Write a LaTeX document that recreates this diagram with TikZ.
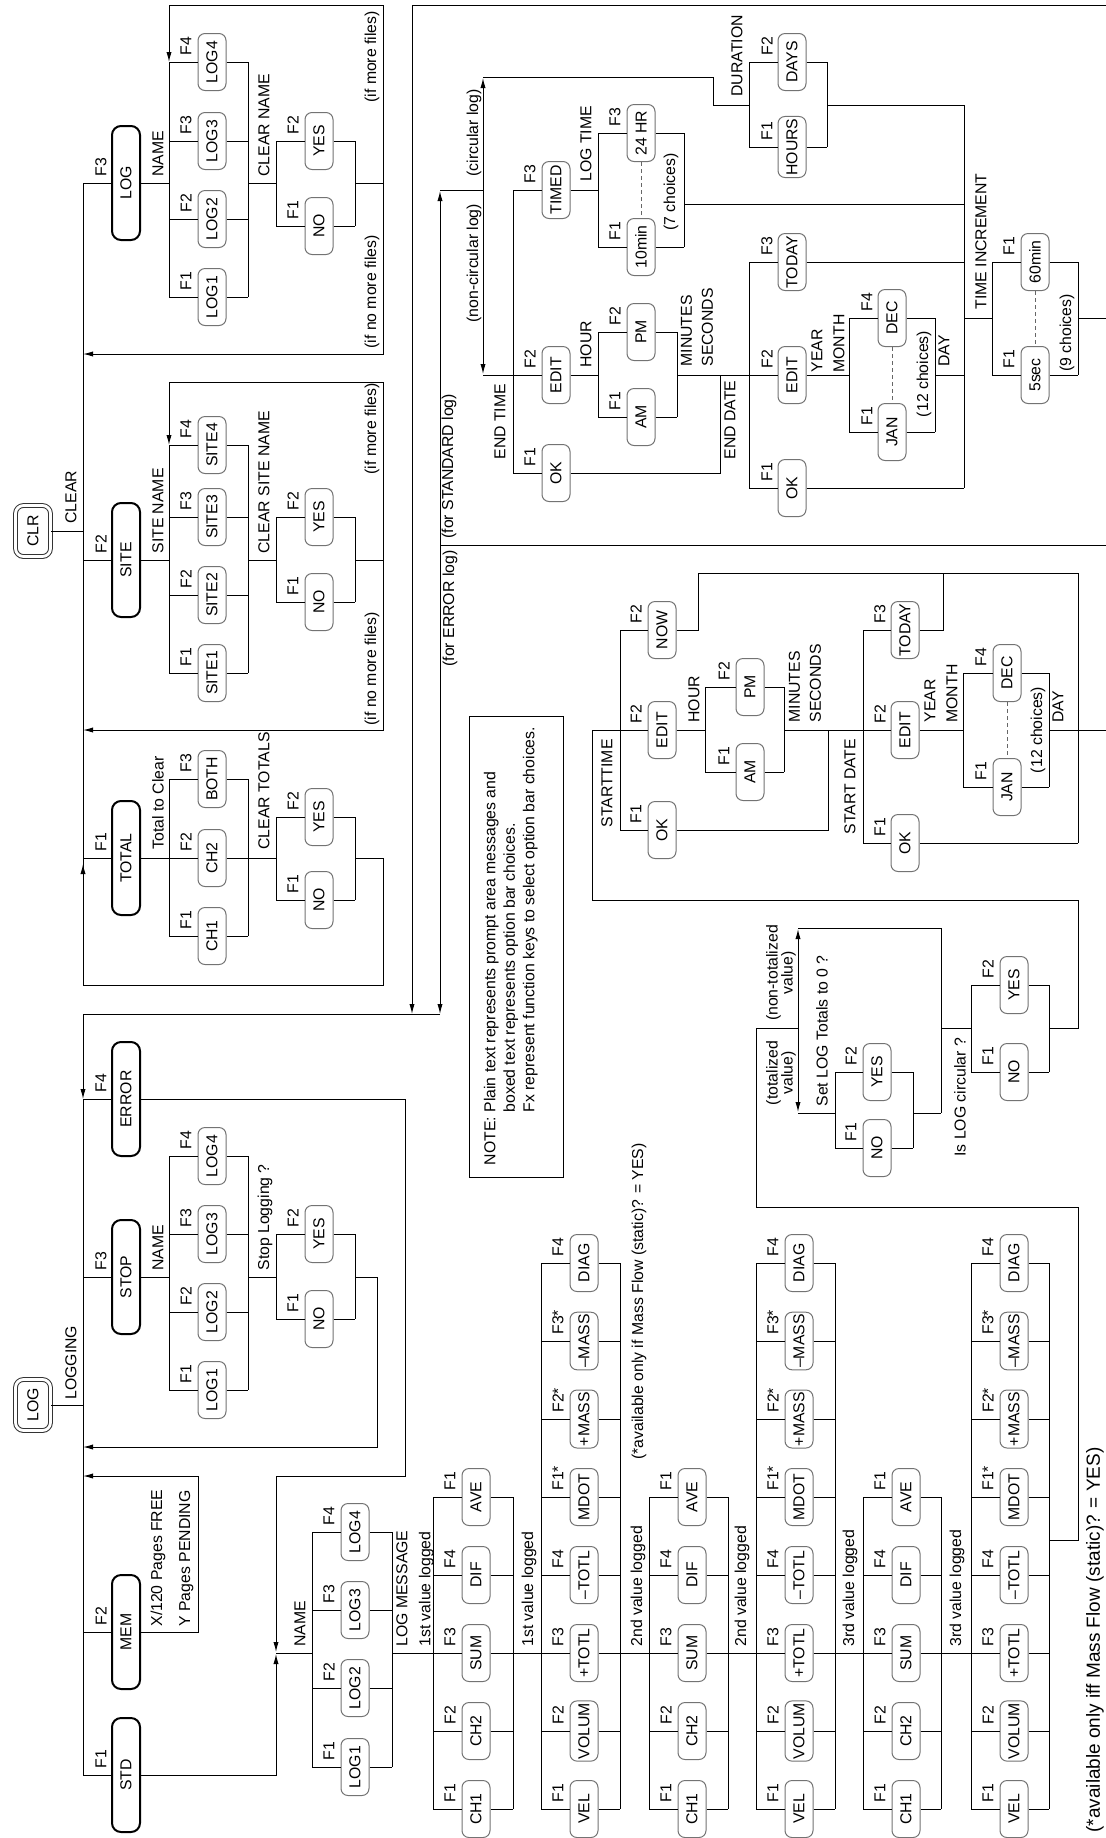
\documentclass[tikz,border=0pt]{standalone}
\usepackage{fontspec}
\setmainfont{Liberation Sans}
\usetikzlibrary{arrows.meta}

\begin{document}
\begin{tikzpicture}[
    x=0.5pt, y=-0.5pt, line width=0.5pt,
    every node/.style={rotate=90, font=\fontsize{7.9}{9.5}\selectfont},
    opt/.style={draw=black!55, rounded corners=3.5pt, fill=white,
      minimum width=28.5pt, minimum height=14pt, inner sep=1pt},
    menu/.style={draw=black, line width=1pt, rounded corners=4.5pt, fill=white,
      minimum width=57pt, minimum height=14pt, inner sep=1pt},
    hkey/.style={draw=black!80, double=white, double distance=1.4pt,
      rounded corners=4pt, fill=white, minimum width=25.5pt,
      minimum height=17.5pt, inner sep=1pt},
    fk/.style={anchor=west, inner sep=1pt},
    lab/.style={anchor=west, inner sep=1pt},
    two/.style={anchor=west, inner sep=1pt, align=left},
    arr/.style={-{Latex[length=5pt, width=2.6pt]}},
    choices/.style={draw=black!60, dash pattern=on 2pt off 1.5pt}
  ]
  \useasboundingbox (0,0) rectangle (1106,1838);

  % ===== CLR key =====
  \node[hkey] (clr) at (33,531) {CLR};
  \node[lab] (tclear) at (71,526) {CLEAR};
  \draw (clr) -- (83,531);
  \draw (83,183) -- (83,985);

  % CLEAR > LOG
  \node[menu] (clog) at (126,183) {LOG};
  \node[fk] (clogf) at (101,179) {F3};
  \draw (83,183) -- (clog) -- (169,183);
  \node[lab] (tcname) at (158,179) {NAME};
  \node[opt] (clog4) at (212,62) {LOG4};  \node[fk] (clog4f) at (186,58) {F4};
  \node[opt] (clog3) at (212,141) {LOG3}; \node[fk] (clog3f) at (186,137) {F3};
  \node[opt] (clog2) at (212,219) {LOG2}; \node[fk] (clog2f) at (186,215) {F2};
  \node[opt] (clog1) at (212,297) {LOG1}; \node[fk] (clog1f) at (186,293) {F1};
  \draw (169,62) -- (169,297);
  \draw (248,62) -- (248,297);
  \draw (169,62) -- (clog4) -- (248,62);
  \draw (169,141) -- (clog3) -- (248,141);
  \draw (169,219) -- (clog2) -- (248,219);
  \draw (169,297) -- (clog1) -- (248,297);
  \draw (248,183) -- (276,183);
  \node[lab] (tclname) at (264,179) {CLEAR NAME};
  \node[opt] (clyes) at (319,141) {YES}; \node[fk] (clyesf) at (293,137) {F2};
  \node[opt] (clno) at (319,226) {NO};   \node[fk] (clnof) at (293,222) {F1};
  \draw (276,141) -- (276,226);
  \draw (355,141) -- (355,226);
  \draw (276,141) -- (clyes) -- (355,141);
  \draw (276,226) -- (clno) -- (355,226);
  \draw[arr] (355,183) -- (383,183) -- (383,5) -- (169,5) -- (169,62);
  \draw[arr] (383,183) -- (383,354) -- (83,354);
  \node[lab] (tlmore) at (372,105) {(if more files)};
  \node[lab] (tlnomore) at (372,351) {(if no more files)};

  % CLEAR > SITE
  \node[menu] (csite) at (126,560) {SITE};
  \node[fk] (csitef) at (101,556) {F2};
  \draw (83,560) -- (csite) -- (169,560);
  \node[lab] (tsname) at (158,556) {SITE NAME};
  \node[opt] (csite4) at (212,445) {SITE4}; \node[fk] (csite4f) at (186,441) {F4};
  \node[opt] (csite3) at (212,517) {SITE3}; \node[fk] (csite3f) at (186,513) {F3};
  \node[opt] (csite2) at (212,595) {SITE2}; \node[fk] (csite2f) at (186,591) {F2};
  \node[opt] (csite1) at (212,673) {SITE1}; \node[fk] (csite1f) at (186,669) {F1};
  \draw (169,445) -- (169,673);
  \draw (248,445) -- (248,673);
  \draw (169,445) -- (csite4) -- (248,445);
  \draw (169,517) -- (csite3) -- (248,517);
  \draw (169,595) -- (csite2) -- (248,595);
  \draw (169,673) -- (csite1) -- (248,673);
  \draw (248,560) -- (276,560);
  \node[lab] (tcsname) at (264,556) {CLEAR SITE NAME};
  \node[opt] (csyes) at (319,517) {YES}; \node[fk] (csyesf) at (293,513) {F2};
  \node[opt] (csno) at (319,602) {NO};   \node[fk] (csnof) at (293,598) {F1};
  \draw (276,517) -- (276,602);
  \draw (355,517) -- (355,602);
  \draw (276,517) -- (csyes) -- (355,517);
  \draw (276,602) -- (csno) -- (355,602);
  \draw[arr] (355,560) -- (383,560) -- (383,382) -- (169,382) -- (169,445);
  \draw[arr] (383,560) -- (383,730) -- (83,730);
  \node[lab] (tsmore) at (372,477) {(if more files)};
  \node[lab] (tsnomore) at (372,728) {(if no more files)};

  % CLEAR > TOTAL
  \node[menu] (ctotal) at (126,858) {TOTAL};
  \node[fk] (ctotalf) at (101,854) {F1};
  \draw (83,858) -- (ctotal) -- (169,858);
  \node[lab] (ttclear) at (158,852) {Total to Clear};
  \node[opt] (cboth) at (212,779) {BOTH}; \node[fk] (cbothf) at (186,775) {F3};
  \node[opt] (cch2) at (212,858) {CH2};   \node[fk] (cch2f) at (186,854) {F2};
  \node[opt] (cch1) at (212,936) {CH1};   \node[fk] (cch1f) at (186,932) {F1};
  \draw (169,779) -- (169,936);
  \draw (248,779) -- (248,936);
  \draw (169,779) -- (cboth) -- (248,779);
  \draw (169,858) -- (cch2) -- (248,858);
  \draw (169,936) -- (cch1) -- (248,936);
  \draw (248,858) -- (276,858);
  \node[lab] (tctot) at (264,852) {CLEAR TOTALS};
  \node[opt] (ctyes) at (319,817) {YES}; \node[fk] (ctyesf) at (293,813) {F2};
  \node[opt] (ctno) at (319,900) {NO};   \node[fk] (ctnof) at (293,896) {F1};
  \draw (276,817) -- (276,900);
  \draw (355,817) -- (355,900);
  \draw (276,817) -- (ctyes) -- (355,817);
  \draw (276,900) -- (ctno) -- (355,900);
  \draw[arr] (355,858) -- (383,858) -- (383,985) -- (83,985) -- (83,864);

  % ===== LOG key =====
  \node[hkey] (logk) at (33,1405) {LOG};
  \node[lab] (tlogging) at (71,1402) {LOGGING};
  \draw (logk) -- (83,1405);
  \draw[arr] (1106,5) -- (412,5) -- (412,1014);
  \draw[arr] (440,545) -- (440,1014);
  \draw[arr] (440,1014) -- (83,1014) -- (83,1099);
  \draw (83,1099) -- (83,1775);

  % LOG > ERROR
  \node[menu] (lerror) at (126,1099) {ERROR};
  \node[fk] (lerrorf) at (101,1095) {F4};
  \draw (83,1099) -- (lerror);
  \draw[arr] (lerror) -- (405,1099) -- (405,1476) -- (276,1476) -- (276,1652);

  % LOG > STOP
  \node[menu] (lstop) at (126,1277) {STOP};
  \node[fk] (lstopf) at (101,1273) {F3};
  \draw (83,1277) -- (lstop) -- (169,1277);
  \node[lab] (tstname) at (158,1273) {NAME};
  \node[opt] (slog4) at (212,1156) {LOG4}; \node[fk] (slog4f) at (186,1152) {F4};
  \node[opt] (slog3) at (212,1234) {LOG3}; \node[fk] (slog3f) at (186,1230) {F3};
  \node[opt] (slog2) at (212,1312) {LOG2}; \node[fk] (slog2f) at (186,1308) {F2};
  \node[opt] (slog1) at (212,1390) {LOG1}; \node[fk] (slog1f) at (186,1386) {F1};
  \draw (169,1156) -- (169,1390);
  \draw (248,1156) -- (248,1390);
  \draw (169,1156) -- (slog4) -- (248,1156);
  \draw (169,1234) -- (slog3) -- (248,1234);
  \draw (169,1312) -- (slog2) -- (248,1312);
  \draw (169,1390) -- (slog1) -- (248,1390);
  \draw (248,1277) -- (276,1277);
  \node[lab] (tstop) at (265,1273) {Stop Logging ?};
  \node[opt] (ssyes) at (319,1234) {YES}; \node[fk] (ssyesf) at (293,1230) {F2};
  \node[opt] (ssno) at (319,1319) {NO};   \node[fk] (ssnof) at (293,1315) {F1};
  \draw (276,1234) -- (276,1319);
  \draw (355,1234) -- (355,1319);
  \draw (276,1234) -- (ssyes) -- (355,1234);
  \draw (276,1319) -- (ssno) -- (355,1319);
  \draw[arr] (355,1277) -- (377,1277) -- (377,1447) -- (83,1447);

  % LOG > MEM
  \node[menu] (lmem) at (126,1632) {MEM};
  \node[fk] (lmemf) at (101,1628) {F2};
  \draw (83,1632) -- (lmem);
  \draw[arr] (lmem) -- (198,1632) -- (198,1476) -- (83,1476);
  \node[two, font=\fontsize{7.9}{14}\selectfont] (tpages) at (172,1629)
    {X/120 Pages FREE\\Y Pages PENDING};

  % LOG > STD
  \node[menu] (lstd) at (126,1775) {STD};
  \node[fk] (lstdf) at (101,1771) {F1};
  \draw (83,1775) -- (lstd);
  \draw[arr] (lstd) -- (276,1775) -- (276,1654);
  \draw (276,1653) -- (312,1653);
  \node[lab] (tstdname) at (300,1649) {NAME};
  \node[opt] (dlog4) at (355,1532) {LOG4}; \node[fk] (dlog4f) at (329,1528) {F4};
  \node[opt] (dlog3) at (355,1610) {LOG3}; \node[fk] (dlog3f) at (329,1606) {F3};
  \node[opt] (dlog2) at (355,1688) {LOG2}; \node[fk] (dlog2f) at (329,1684) {F2};
  \node[opt] (dlog1) at (355,1767) {LOG1}; \node[fk] (dlog1f) at (329,1763) {F1};
  \draw (312,1532) -- (312,1767);
  \draw (392,1532) -- (392,1767);
  \draw (312,1532) -- (dlog4) -- (392,1532);
  \draw (312,1610) -- (dlog3) -- (392,1610);
  \draw (312,1688) -- (dlog2) -- (392,1688);
  \draw (312,1767) -- (dlog1) -- (392,1767);
  \draw (392,1653) -- (433,1653);
  \node[two, font=\fontsize{7.9}{11.5}\selectfont] (tlogmsg) at (415,1649)
    {LOG MESSAGE\\1st value logged};

  % 1st value: channel
  \node[opt] (g1a) at (476,1497) {AVE}; \node[fk] (g1af) at (450,1493) {F1};
  \node[opt] (g1b) at (476,1575) {DIF}; \node[fk] (g1bf) at (450,1571) {F4};
  \node[opt] (g1c) at (476,1653) {SUM}; \node[fk] (g1cf) at (450,1649) {F3};
  \node[opt] (g1d) at (476,1731) {CH2}; \node[fk] (g1df) at (450,1727) {F2};
  \node[opt] (g1e) at (476,1809) {CH1}; \node[fk] (g1ef) at (450,1805) {F1};
  \draw (433,1497) -- (433,1809);
  \draw (513,1497) -- (513,1809);
  \draw (433,1497) -- (g1a) -- (513,1497);
  \draw (433,1575) -- (g1b) -- (513,1575);
  \draw (433,1653) -- (g1c) -- (513,1653);
  \draw (433,1731) -- (g1d) -- (513,1731);
  \draw (433,1809) -- (g1e) -- (513,1809);
  \draw (513,1653) -- (541,1653);
  \node[lab] (tv1) at (529,1649) {1st value logged};

  % 1st value: quantity
  \node[opt] (g2a) at (584,1263) {DIAG};     \node[fk] (g2af) at (558,1259) {F4};
  \node[opt] (g2b) at (584,1341) {{--}MASS}; \node[fk] (g2bf) at (558,1337) {F3*};
  \node[opt] (g2c) at (584,1419) {+MASS};    \node[fk] (g2cf) at (558,1415) {F2*};
  \node[opt] (g2d) at (584,1497) {MDOT};     \node[fk] (g2df) at (558,1493) {F1*};
  \node[opt] (g2e) at (584,1575) {{--}TOTL}; \node[fk] (g2ef) at (558,1571) {F4};
  \node[opt] (g2f) at (584,1653) {+TOTL};    \node[fk] (g2ff) at (558,1649) {F3};
  \node[opt] (g2g) at (584,1731) {VOLUM};    \node[fk] (g2gf) at (558,1727) {F2};
  \node[opt] (g2h) at (584,1809) {VEL};      \node[fk] (g2hf) at (558,1805) {F1};
  \draw (541,1263) -- (541,1809);
  \draw (620,1263) -- (620,1809);
  \draw (541,1263) -- (g2a) -- (620,1263);
  \draw (541,1341) -- (g2b) -- (620,1341);
  \draw (541,1419) -- (g2c) -- (620,1419);
  \draw (541,1497) -- (g2d) -- (620,1497);
  \draw (541,1575) -- (g2e) -- (620,1575);
  \draw (541,1653) -- (g2f) -- (620,1653);
  \draw (541,1731) -- (g2g) -- (620,1731);
  \draw (541,1809) -- (g2h) -- (620,1809);
  \node[lab] (tfoot1) at (639,1462) {(*available only if Mass Flow (static)? = YES)};
  \draw (620,1653) -- (649,1653);
  \node[lab] (tv2a) at (638,1649) {2nd value logged};

  % 2nd value: channel
  \node[opt] (g3a) at (692,1497) {AVE}; \node[fk] (g3af) at (666,1493) {F1};
  \node[opt] (g3b) at (692,1575) {DIF}; \node[fk] (g3bf) at (666,1571) {F4};
  \node[opt] (g3c) at (692,1653) {SUM}; \node[fk] (g3cf) at (666,1649) {F3};
  \node[opt] (g3d) at (692,1731) {CH2}; \node[fk] (g3df) at (666,1727) {F2};
  \node[opt] (g3e) at (692,1809) {CH1}; \node[fk] (g3ef) at (666,1805) {F1};
  \draw (649,1497) -- (649,1809);
  \draw (728,1497) -- (728,1809);
  \draw (649,1497) -- (g3a) -- (728,1497);
  \draw (649,1575) -- (g3b) -- (728,1575);
  \draw (649,1653) -- (g3c) -- (728,1653);
  \draw (649,1731) -- (g3d) -- (728,1731);
  \draw (649,1809) -- (g3e) -- (728,1809);
  \draw (728,1653) -- (756,1653);
  \node[lab] (tv2b) at (742,1649) {2nd value logged};

  % 2nd value: quantity
  \node[opt] (g4a) at (799,1263) {DIAG};     \node[fk] (g4af) at (773,1259) {F4};
  \node[opt] (g4b) at (799,1341) {{--}MASS}; \node[fk] (g4bf) at (773,1337) {F3*};
  \node[opt] (g4c) at (799,1419) {+MASS};    \node[fk] (g4cf) at (773,1415) {F2*};
  \node[opt] (g4d) at (799,1497) {MDOT};     \node[fk] (g4df) at (773,1493) {F1*};
  \node[opt] (g4e) at (799,1575) {{--}TOTL}; \node[fk] (g4ef) at (773,1571) {F4};
  \node[opt] (g4f) at (799,1653) {+TOTL};    \node[fk] (g4ff) at (773,1649) {F3};
  \node[opt] (g4g) at (799,1731) {VOLUM};    \node[fk] (g4gf) at (773,1727) {F2};
  \node[opt] (g4h) at (799,1809) {VEL};      \node[fk] (g4hf) at (773,1805) {F1};
  \draw (756,1263) -- (756,1809);
  \draw (835,1263) -- (835,1809);
  \draw (756,1263) -- (g4a) -- (835,1263);
  \draw (756,1341) -- (g4b) -- (835,1341);
  \draw (756,1419) -- (g4c) -- (835,1419);
  \draw (756,1497) -- (g4d) -- (835,1497);
  \draw (756,1575) -- (g4e) -- (835,1575);
  \draw (756,1653) -- (g4f) -- (835,1653);
  \draw (756,1731) -- (g4g) -- (835,1731);
  \draw (756,1809) -- (g4h) -- (835,1809);
  \draw (835,1653) -- (863,1653);
  \node[lab] (tv3a) at (850,1649) {3rd value logged};

  % 3rd value: channel
  \node[opt] (g5a) at (906,1497) {AVE}; \node[fk] (g5af) at (880,1493) {F1};
  \node[opt] (g5b) at (906,1575) {DIF}; \node[fk] (g5bf) at (880,1571) {F4};
  \node[opt] (g5c) at (906,1653) {SUM}; \node[fk] (g5cf) at (880,1649) {F3};
  \node[opt] (g5d) at (906,1731) {CH2}; \node[fk] (g5df) at (880,1727) {F2};
  \node[opt] (g5e) at (906,1809) {CH1}; \node[fk] (g5ef) at (880,1805) {F1};
  \draw (863,1497) -- (863,1809);
  \draw (941,1497) -- (941,1809);
  \draw (863,1497) -- (g5a) -- (941,1497);
  \draw (863,1575) -- (g5b) -- (941,1575);
  \draw (863,1653) -- (g5c) -- (941,1653);
  \draw (863,1731) -- (g5d) -- (941,1731);
  \draw (863,1809) -- (g5e) -- (941,1809);
  \draw (941,1653) -- (971,1653);
  \node[lab] (tv3b) at (957,1649) {3rd value logged};

  % 3rd value: quantity
  \node[opt] (g6a) at (1014,1263) {DIAG};     \node[fk] (g6af) at (988,1259) {F4};
  \node[opt] (g6b) at (1014,1341) {{--}MASS}; \node[fk] (g6bf) at (988,1337) {F3*};
  \node[opt] (g6c) at (1014,1419) {+MASS};    \node[fk] (g6cf) at (988,1415) {F2*};
  \node[opt] (g6d) at (1014,1497) {MDOT};     \node[fk] (g6df) at (988,1493) {F1*};
  \node[opt] (g6e) at (1014,1575) {{--}TOTL}; \node[fk] (g6ef) at (988,1571) {F4};
  \node[opt] (g6f) at (1014,1653) {+TOTL};    \node[fk] (g6ff) at (988,1649) {F3};
  \node[opt] (g6g) at (1014,1731) {VOLUM};    \node[fk] (g6gf) at (988,1727) {F2};
  \node[opt] (g6h) at (1014,1809) {VEL};      \node[fk] (g6hf) at (988,1805) {F1};
  \draw (971,1263) -- (971,1809);
  \draw (1049,1263) -- (1049,1809);
  \draw (971,1263) -- (g6a) -- (1049,1263);
  \draw (971,1341) -- (g6b) -- (1049,1341);
  \draw (971,1419) -- (g6c) -- (1049,1419);
  \draw (971,1497) -- (g6d) -- (1049,1497);
  \draw (971,1575) -- (g6e) -- (1049,1575);
  \draw (971,1653) -- (g6f) -- (1049,1653);
  \draw (971,1731) -- (g6g) -- (1049,1731);
  \draw (971,1809) -- (g6h) -- (1049,1809);
  \node[lab, font=\fontsize{9.5}{11}\selectfont] (tfoot2) at (1095,1835)
    {(*available only iff Mass Flow (static)? = YES)};

  % log totals and circular questions
  \draw (1049,1540) -- (1078,1540) -- (1078,1207) -- (756,1207) -- (756,1028) -- (798,1028);
  \draw[arr] (798,1028) -- (798,929);
  \draw[arr] (798,1028) -- (798,1112);
  \draw (798,928) -- (941,928) -- (941,1113);
  \draw (798,1113) -- (835,1113);
  \node[align=center, font=\fontsize{7.9}{7.5}\selectfont] (tnontot) at (781,973)
    {(non-totalized\\value)};
  \node[align=center, font=\fontsize{7.9}{7.5}\selectfont] (ttot) at (781,1073)
    {(totalized\\value)};
  \node[lab] (tsetlog) at (822,1109) {Set LOG Totals to 0 ?};
  \node[opt] (zyes) at (877,1072) {YES}; \node[fk] (zyesf) at (851,1068) {F2};
  \node[opt] (zno) at (877,1148) {NO};   \node[fk] (znof) at (851,1144) {F1};
  \draw (835,1072) -- (835,1148);
  \draw (913,1072) -- (913,1148);
  \draw (835,1072) -- (zyes) -- (913,1072);
  \draw (835,1148) -- (zno) -- (913,1148);
  \draw (913,1113) -- (941,1113);
  \draw (941,1028) -- (971,1028);
  \node[lab] (tcirc) at (960,1159) {Is LOG circular ?};
  \node[opt] (cyes) at (1014,985) {YES}; \node[fk] (cyesf) at (988,981) {F2};
  \node[opt] (cno) at (1014,1072) {NO};  \node[fk] (cnof) at (988,1068) {F1};
  \draw (971,985) -- (971,1072);
  \draw (1049,985) -- (1049,1072);
  \draw (971,985) -- (cyes) -- (1049,985);
  \draw (971,1072) -- (cno) -- (1049,1072);
  \draw (1049,1028) -- (1078,1028) -- (1078,900) -- (592,900) -- (592,730) -- (620,730);

  % STARTTIME
  \node[lab] (tstart) at (607,830) {STARTTIME};
  \node[opt] (stnow) at (662,630) {NOW};   \node[fk] (stnowf) at (636,626) {F2};
  \node[opt] (stedit) at (662,730) {EDIT}; \node[fk] (steditf) at (636,726) {F2};
  \node[opt] (stok) at (662,830) {OK};     \node[fk] (stokf) at (636,826) {F1};
  \draw (620,630) -- (620,830);
  \draw (620,630) -- (stnow);
  \draw (stnow) -- (698,630) -- (698,573) -- (1078,573) -- (1078,843);
  \draw (620,730) -- (stedit) -- (705,730);
  \node[lab] (tsthour) at (694,725) {HOUR};
  \node[opt] (stpm) at (750,687) {PM}; \node[fk] (stpmf) at (724,683) {F2};
  \node[opt] (stam) at (750,772) {AM}; \node[fk] (stamf) at (724,768) {F1};
  \draw (705,687) -- (705,772);
  \draw (784,687) -- (784,772);
  \draw (705,687) -- (stpm) -- (784,687);
  \draw (705,772) -- (stam) -- (784,772);
  \draw (784,730) -- (863,730);
  \node[two, font=\fontsize{7.9}{10.5}\selectfont] (tstmin) at (805,725) {MINUTES\\SECONDS};
  \draw (620,830) -- (stok);
  \draw (stok) -- (828,830) -- (828,730);

  % START DATE
  \node[lab] (tsdate) at (850,837) {START DATE};
  \node[opt] (sdtoday) at (905,630) {TODAY}; \node[fk] (sdtodayf) at (880,626) {F3};
  \node[opt] (sdedit) at (905,730) {EDIT};   \node[fk] (sdeditf) at (880,726) {F2};
  \node[opt] (sdok) at (905,843) {OK};       \node[fk] (sdokf) at (880,839) {F1};
  \draw (863,630) -- (863,843);
  \draw (863,630) -- (sdtoday);
  \draw (sdtoday) -- (943,630) -- (943,573);
  \draw (863,730) -- (sdedit) -- (963,730);
  \node[two, font=\fontsize{7.9}{11}\selectfont] (tsdym) at (941,725) {YEAR\\MONTH};
  \node[opt] (sddec) at (1007,673) {DEC}; \node[fk] (sddecf) at (981,669) {F4};
  \node[opt] (sdjan) at (1007,787) {JAN}; \node[fk] (sdjanf) at (981,783) {F1};
  \draw (963,673) -- (963,787);
  \draw (1049,673) -- (1049,787);
  \draw (963,673) -- (sddec) -- (1049,673);
  \draw (963,787) -- (sdjan) -- (1049,787);
  \draw[choices] (sddec) -- (sdjan);
  \node (tsd12) at (1038,730) {(12 choices)};
  \draw (1049,730) -- (1106,730);
  \node[lab] (tsdday) at (1058,725) {DAY};
  \draw (863,843) -- (sdok);
  \draw (sdok) -- (1078,843);

  % for STANDARD log
  \draw (1106,545) -- (440,545);
  \node[lab] (tforstd) at (449,541) {(for STANDARD log)};
  \node[lab] (tforerr) at (450,669) {(for ERROR log)};
  \draw[arr] (440,545) -- (440,191);
  \draw (440,190) -- (483,190);
  \draw[arr] (483,190) -- (483,78);
  \draw (483,77) -- (713,77) -- (713,105) -- (749,105);
  \draw[arr] (483,190) -- (483,374);
  \draw (483,375) -- (513,375);
  \node[lab] (tcirclog) at (474,179) {(circular log)};
  \node[lab] (tncirclog) at (474,325) {(non-circular log)};

  % END TIME
  \node[lab] (tetime) at (500,462) {END TIME};
  \node[opt] (ettimed) at (556,190) {TIMED}; \node[fk] (ettimedf) at (530,186) {F3};
  \node[opt] (etedit) at (556,375) {EDIT};   \node[fk] (eteditf) at (530,371) {F2};
  \node[opt] (etok) at (556,473) {OK};       \node[fk] (etokf) at (530,469) {F1};
  \draw (513,190) -- (513,473);
  \draw (513,190) -- (ettimed) -- (598,190);
  \node[lab] (tlogtime) at (586,184) {LOG TIME};
  \node[opt] (et24) at (641,133) {24 HR}; \node[fk] (et24f) at (615,129) {F3};
  \node[opt] (et10) at (641,247) {10min}; \node[fk] (et10f) at (615,243) {F1};
  \draw (598,133) -- (598,247);
  \draw (684,133) -- (684,247);
  \draw (598,133) -- (et24) -- (684,133);
  \draw (598,247) -- (et10) -- (684,247);
  \draw[choices] (et24) -- (et10);
  \node (tet7) at (671,192) {(7 choices)};
  \draw (684,204) -- (964,204);
  \draw (513,375) -- (etedit) -- (598,375);
  \node[lab] (tethour) at (586,370) {HOUR};
  \node[opt] (etpm) at (641,332) {PM}; \node[fk] (etpmf) at (615,328) {F2};
  \node[opt] (etam) at (641,417) {AM}; \node[fk] (etamf) at (615,413) {F1};
  \draw (598,332) -- (598,417);
  \draw (677,332) -- (677,417);
  \draw (598,332) -- (etpm) -- (677,332);
  \draw (598,417) -- (etam) -- (677,417);
  \draw (677,375) -- (749,375);
  \node[two, font=\fontsize{7.9}{10.5}\selectfont] (tetmin) at (697,369) {MINUTES\\SECONDS};
  \draw (513,473) -- (etok);
  \draw (etok) -- (720,473) -- (720,375);

  % END DATE
  \node[lab] (tedate) at (730,462) {END DATE};
  \node[opt] (edtoday) at (792,262) {TODAY}; \node[fk] (edtodayf) at (767,258) {F3};
  \node[opt] (ededit) at (792,375) {EDIT};   \node[fk] (ededitf) at (767,371) {F2};
  \node[opt] (edok) at (792,488) {OK};       \node[fk] (edokf) at (767,484) {F1};
  \draw (749,262) -- (749,488);
  \draw (749,262) -- (edtoday) -- (964,262);
  \draw (749,375) -- (ededit) -- (849,375);
  \node[two, font=\fontsize{7.9}{11}\selectfont] (tedym) at (828,375) {YEAR\\MONTH};
  \node[opt] (eddec) at (892,318) {DEC}; \node[fk] (eddecf) at (867,314) {F4};
  \node[opt] (edjan) at (892,432) {JAN}; \node[fk] (edjanf) at (867,428) {F1};
  \draw (849,318) -- (849,432);
  \draw (935,318) -- (935,432);
  \draw (849,318) -- (eddec) -- (935,318);
  \draw (849,432) -- (edjan) -- (935,432);
  \draw[choices] (eddec) -- (edjan);
  \node (ted12) at (924,374) {(12 choices)};
  \draw (935,375) -- (964,375);
  \node[lab] (tedday) at (944,369) {DAY};
  \draw (749,488) -- (edok) -- (964,488);
  \draw (964,105) -- (964,488);

  % DURATION
  \node[lab] (tdur) at (737,99) {DURATION};
  \node[opt] (dudays) at (792,62) {DAYS};    \node[fk] (dudaysf) at (767,58) {F2};
  \node[opt] (duhours) at (792,147) {HOURS}; \node[fk] (duhoursf) at (767,143) {F1};
  \draw (749,62) -- (749,147);
  \draw (827,62) -- (827,147);
  \draw (749,62) -- (dudays) -- (827,62);
  \draw (749,147) -- (duhours) -- (827,147);
  \draw (827,105) -- (964,105);

  % TIME INCREMENT
  \draw (964,318) -- (992,318);
  \node[lab] (ttinc) at (981,312) {TIME INCREMENT};
  \node[opt] (ti60) at (1035,262) {60min}; \node[fk] (ti60f) at (1009,258) {F1};
  \node[opt] (ti5) at (1035,375) {5sec};   \node[fk] (ti5f) at (1009,371) {F1};
  \draw (992,262) -- (992,375);
  \draw (1078,262) -- (1078,375);
  \draw (992,262) -- (ti60) -- (1078,262);
  \draw (992,375) -- (ti5) -- (1078,375);
  \draw[choices] (ti60) -- (ti5);
  \node (tti9) at (1067,333) {(9 choices)};
  \draw (1078,318) -- (1106,318);

  % NOTE
  \node[draw, minimum width=230.5pt, minimum height=47pt] (notebox) at (516,946.5) {};
  \node[font=\fontsize{7.9}{9.75}\selectfont, inner sep=0pt] (notetext) at (511,946)
    {\begin{tabular}{@{}l@{\ }l@{}}NOTE: & Plain text represents prompt area messages and\\
      & boxed text represents option bar choices.\\
      & Fx represent function keys to select option bar choices.\end{tabular}};

\end{tikzpicture}
\end{document}
